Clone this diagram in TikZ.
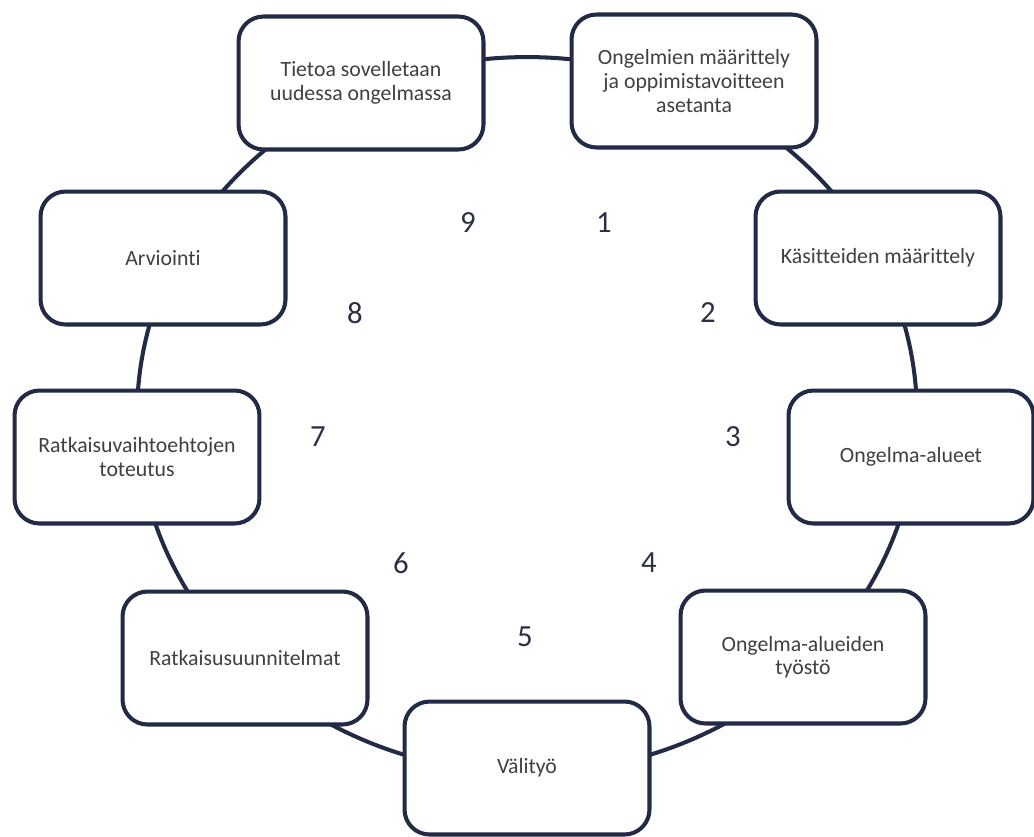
\documentclass[tikz,border=0pt]{standalone}
\usepackage{fontspec}
\setmainfont{Carlito}[Ligatures=NoCommon]
\definecolor{ringnavy}{HTML}{232A45}
\definecolor{textgrey}{HTML}{404040}
\definecolor{numgrey}{HTML}{2B3042}
\tikzset{
  stepbox/.style={draw=ringnavy, line width=2.3pt, rounded corners=0.5cm, fill=white,
    minimum width=4.9cm, minimum height=2.66cm, align=center, text=textgrey,
    font=\fontsize{12.4}{13.4}\selectfont},
  stepnum/.style={text=numgrey, font=\fontsize{17.5}{20}\selectfont}
}

\begin{document}
\begin{tikzpicture}[x=0.02cm, y=-0.02cm]

  \useasboundingbox (0,0) rectangle (1034,836);

  \node[coordinate] (centre) at (527,415) {};

  % the ring behind the boxes
  \draw[ringnavy, line width=2.3pt] (centre) ellipse [x radius=7.8cm, y radius=7.16cm];

  \node[stepbox] (maaritys) at (694,81) {Ongelmien määrittely\\ja oppimistavoitteen\\asetanta};
  \node[stepbox] (kasitteet) at (878,258) {Käsitteiden määrittely};
  \node[stepbox] (alueet) at (911,457) {Ongelma-alueet};
  \node[stepbox] (tyosto) at (803,657) {Ongelma-alueiden\\työstö};
  \node[stepbox] (valityo) at (527,768) {Välityö};
  \node[stepbox] (suunnitelmat) at (245,658) {Ratkaisusuunnitelmat};
  \node[stepbox] (toteutus) at (137,457) {Ratkaisuvaihtoehtojen\\toteutus};
  \node[stepbox] (arviointi) at (163,258) {Arviointi};
  \node[stepbox] (soveltaminen) at (361,83) {Tietoa sovelletaan\\uudessa ongelmassa};

  % step numbers
  \node[stepnum] (num1) at (604,223) {1};
  \node[stepnum] (num2) at (708,313) {2};
  \node[stepnum] (num3) at (733,437) {3};
  \node[stepnum] (num4) at (649,563) {4};
  \node[stepnum] (num5) at (525,637) {5};
  \node[stepnum] (num6) at (401,563) {6};
  \node[stepnum] (num7) at (318,437) {7};
  \node[stepnum] (num8) at (355,313) {8};
  \node[stepnum] (num9) at (468,223) {9};

\end{tikzpicture}
\end{document}
